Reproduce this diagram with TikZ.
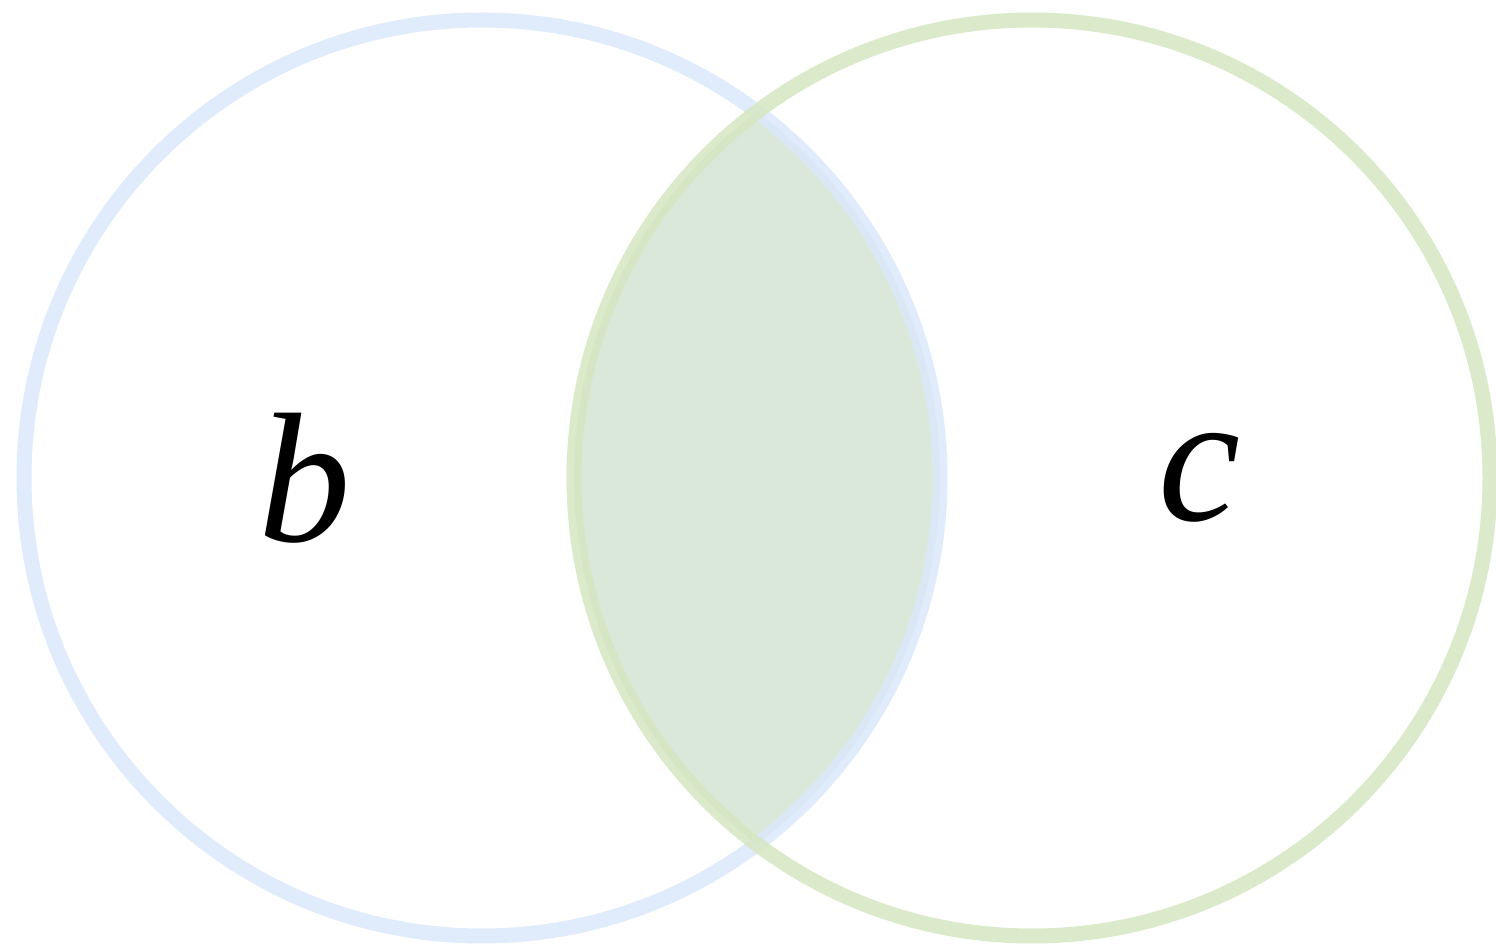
\documentclass[tikz,border=0pt]{standalone}
\usepackage{fontspec}
\setmainfont{Liberation Serif}
\definecolor{vennblue}{HTML}{DAE8FC}
\definecolor{venngreen}{HTML}{D5E6C2}
\definecolor{vennmid}{HTML}{DAE8DA}
\begin{document}
\begin{tikzpicture}[x=0.5pt,y=-0.5pt]

  \useasboundingbox (0,0) rectangle (1496,945);

  % doorsnede
  \begin{scope}
    \clip (482,478) circle (458);
    \fill[vennmid] (1032,478) circle (458);
  \end{scope}

  % cirkels
  \draw[vennblue,line width=7.5pt,opacity=0.85] (482,478) circle (458);
  \draw[venngreen,line width=7.5pt,opacity=0.85] (1032,478) circle (458);

  % labels
  \node[inner sep=0pt,font=\fontsize{92.5}{100}\selectfont\itshape] (b) at (305,478) {b};
  \node[inner sep=0pt,font=\fontsize{92.5}{100}\selectfont\itshape] (c) at (1200,478) {c};

\end{tikzpicture}
\end{document}
